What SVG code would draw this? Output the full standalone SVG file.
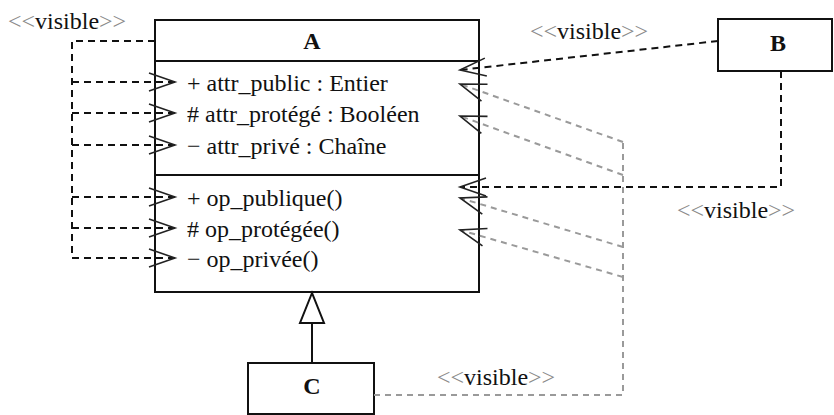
<svg xmlns="http://www.w3.org/2000/svg" width="834" height="415" viewBox="0 0 834 415" font-family="'Liberation Serif', 'Times New Roman', Times, 'DejaVu Serif', serif">
  <style>
    text { font-family: "Liberation Serif", "Times New Roman", Times, "DejaVu Serif", serif; font-size: 24px; fill: #111; }
    .name { font-weight: bold; text-anchor: middle; }
    .box { fill: #fff; stroke: #111; stroke-width: 2; }
    .dep { fill: none; stroke: #111; stroke-width: 2; stroke-dasharray: 7 5; }
    .dep-g { fill: none; stroke: #9a9a9a; stroke-width: 2; stroke-dasharray: 6 5; }
    .solid { fill: none; stroke: #111; stroke-width: 2; }
    .lt { fill: #8a8a8a; }
  </style>
  <defs>
    <marker id="open" markerUnits="userSpaceOnUse" markerWidth="32" markerHeight="24" refX="28" refY="12" orient="auto" overflow="visible">
      <path d="M2,3 L28,12 L2,21" fill="none" stroke="#222" stroke-width="1.6" stroke-dasharray="none"/>
    </marker>
  </defs>

  <!-- class A -->
  <g id="classA">
    <rect class="box" x="155" y="20" width="324" height="272"/>
    <line class="solid" x1="155" y1="61" x2="479" y2="61"/>
    <line class="solid" x1="155" y1="175" x2="479" y2="175"/>
    <text class="name" x="312" y="49">A</text>
    <text x="187" y="91">+ attr_public : Entier</text>
    <text x="187" y="122"># attr_protégé : Booléen</text>
    <text x="187" y="154">− attr_privé : Chaîne</text>
    <text x="187" y="206">+ op_publique()</text>
    <text x="187" y="237"># op_protégée()</text>
    <text x="187" y="267">− op_privée()</text>
  </g>

  <!-- class B -->
  <g id="classB">
    <rect class="box" x="718" y="19" width="114" height="52"/>
    <text class="name" x="778" y="51">B</text>
  </g>

  <!-- class C -->
  <g id="classC">
    <rect class="box" x="248" y="363" width="126" height="51"/>
    <text class="name" x="312" y="394">C</text>
  </g>

  <!-- connectors -->
  <g id="connectors">
    <!-- A sees its own members -->
    <path class="dep" d="M155,41 H72 V258"/>
    <path class="dep" d="M72,82 H175" marker-end="url(#open)"/>
    <path class="dep" d="M72,113 H175" marker-end="url(#open)"/>
    <path class="dep" d="M72,145 H175" marker-end="url(#open)"/>
    <path class="dep" d="M72,197 H175" marker-end="url(#open)"/>
    <path class="dep" d="M72,228 H175" marker-end="url(#open)"/>
    <path class="dep" d="M72,258 H175" marker-end="url(#open)"/>

    <!-- C sees public and protected members -->
    <path class="dep-g" d="M374,395 H623 V142"/>
    <path class="dep-g" d="M623,142 L460,84" marker-end="url(#open)"/>
    <path class="dep-g" d="M623,175 L460,116" marker-end="url(#open)"/>
    <path class="dep-g" d="M623,247 L460,198" marker-end="url(#open)"/>
    <path class="dep-g" d="M623,277 L460,230" marker-end="url(#open)"/>

    <!-- B sees public members -->
    <path class="dep" d="M718,41 L460,70" marker-end="url(#open)"/>
    <path class="dep" d="M781,71 V187 H460" marker-end="url(#open)"/>

    <!-- generalization C -> A -->
    <line class="solid" x1="312" y1="363" x2="312" y2="323"/>
    <polygon points="312,293 300,323 324,323" fill="#fff" stroke="#111" stroke-width="2"/>
  </g>

  <!-- stereotype labels -->
  <g id="labels">
    <text x="8" y="29"><tspan class="lt">&lt;&lt;</tspan>visible<tspan class="lt">&gt;&gt;</tspan></text>
    <text x="530" y="39"><tspan class="lt">&lt;&lt;</tspan>visible<tspan class="lt">&gt;&gt;</tspan></text>
    <text x="677" y="218"><tspan class="lt">&lt;&lt;</tspan>visible<tspan class="lt">&gt;&gt;</tspan></text>
    <text x="437" y="385"><tspan class="lt">&lt;&lt;</tspan>visible<tspan class="lt">&gt;&gt;</tspan></text>
  </g>
</svg>
